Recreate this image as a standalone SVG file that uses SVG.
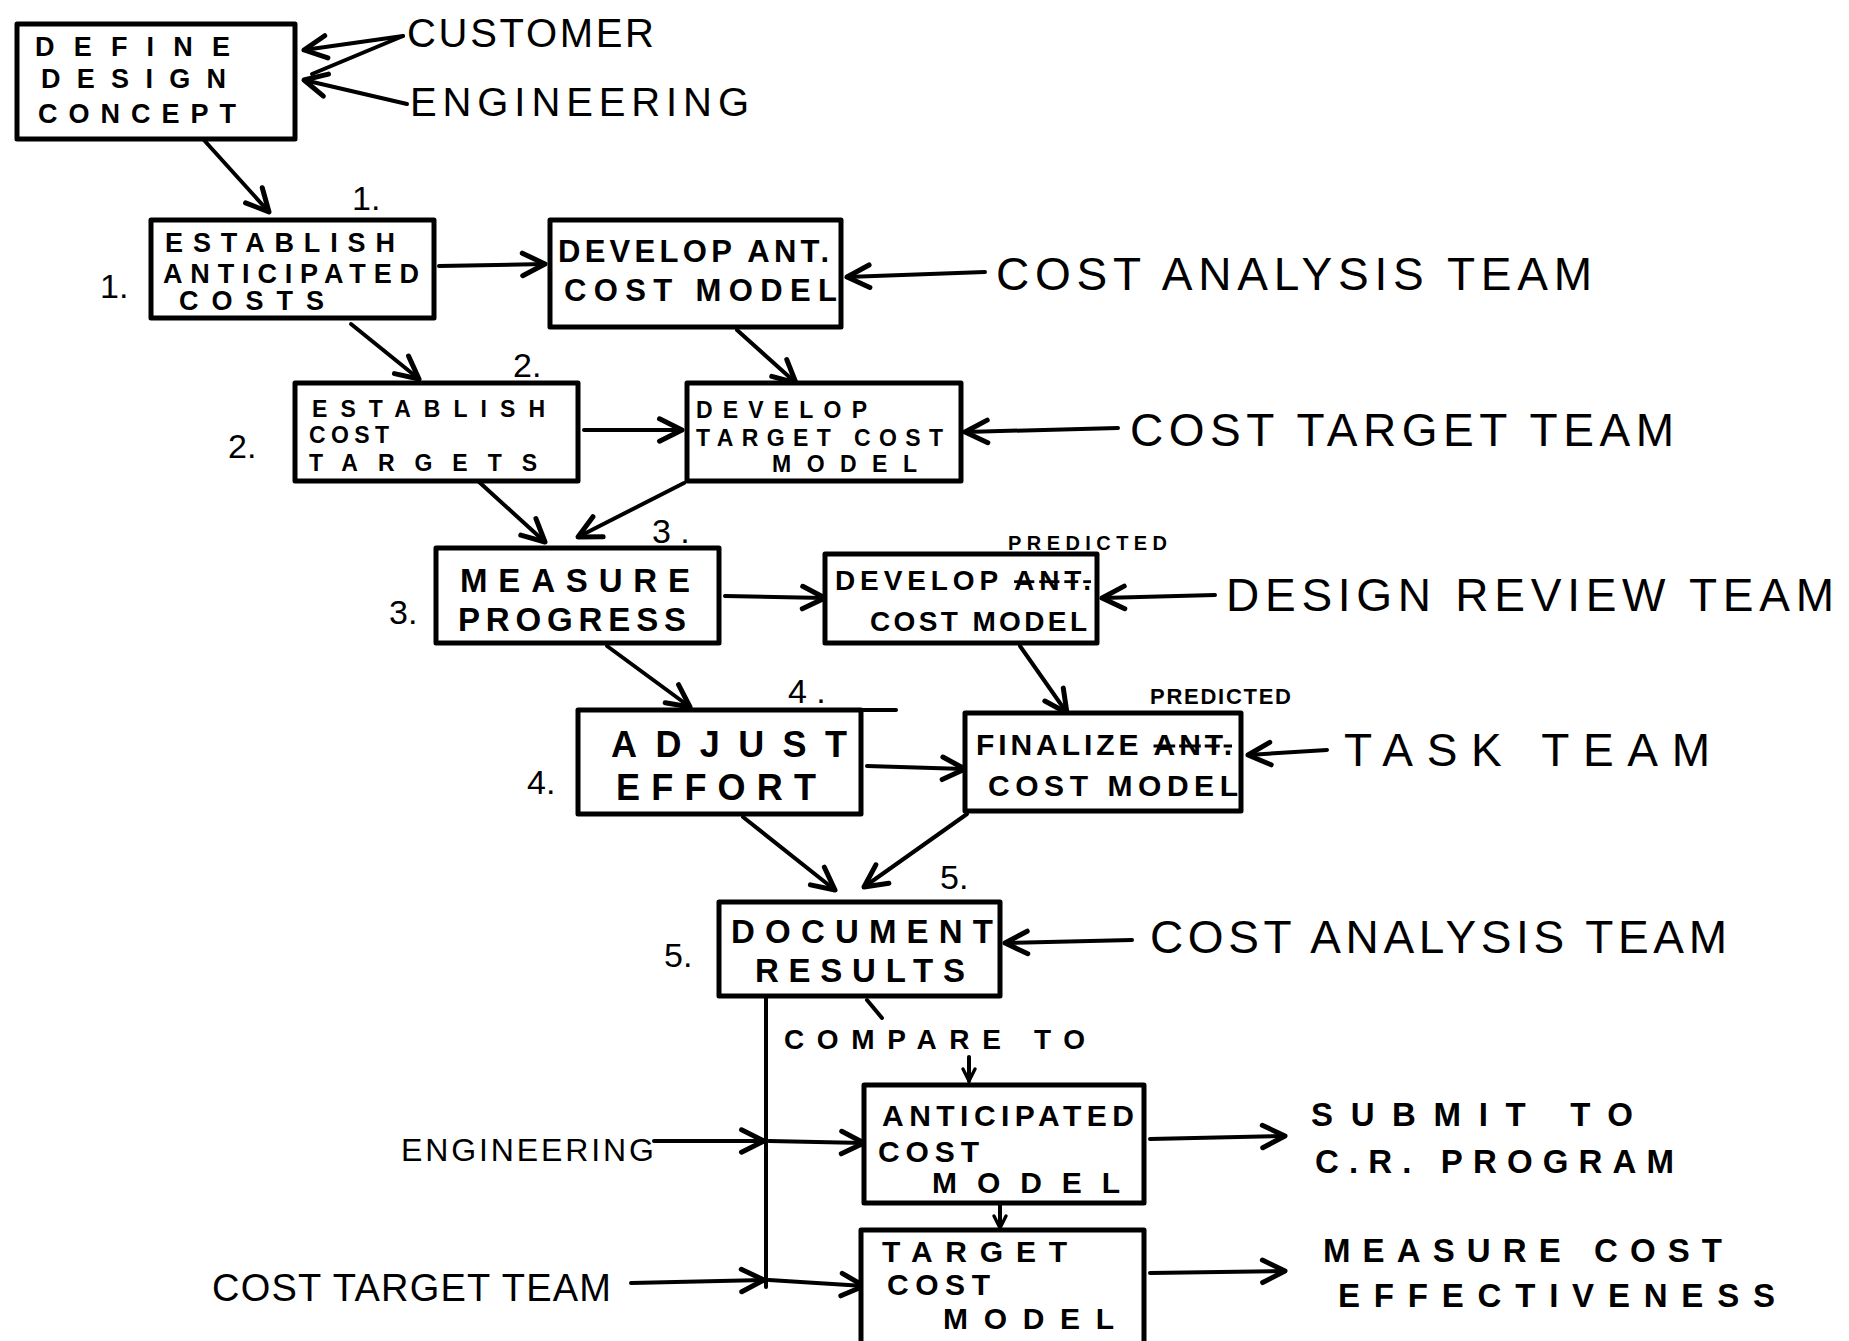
<svg xmlns="http://www.w3.org/2000/svg" width="1849" height="1341" viewBox="0 0 1849 1341">
<defs>
<marker id="ah" markerUnits="userSpaceOnUse" markerWidth="30" markerHeight="30" viewBox="0 0 24 24" refX="21" refY="12" orient="auto">
<path d="M3,3 L21,12 L3,21" fill="none" stroke="#000" stroke-width="4" stroke-linecap="round" stroke-linejoin="round"/>
</marker>
<marker id="ahs" markerUnits="userSpaceOnUse" markerWidth="16" markerHeight="16" viewBox="0 0 24 24" refX="21" refY="12" orient="auto">
<path d="M3,3 L21,12 L3,21" fill="none" stroke="#000" stroke-width="5" stroke-linecap="round"/>
</marker>
</defs>
<style>
.box{fill:#fff;stroke:#000;stroke-width:5;stroke-linejoin:round}
.c{fill:none;stroke:#000;stroke-width:4;stroke-linecap:round}
.bt{font-family:"Liberation Sans",Arial,sans-serif;font-weight:bold;fill:#000}
.lb{font-family:"Liberation Sans",Arial,sans-serif;fill:#000}
.num{font-family:"Liberation Sans",Arial,sans-serif;fill:#000;font-size:34px}
.st{text-decoration:line-through}
</style>
<rect width="1849" height="1341" fill="#fff"/>

<g id="connectors">
<path class="c" d="M403,36 L304,50" marker-end="url(#ah)"/>
<path class="c" d="M403,36 L312,74"/>
<path class="c" d="M407,104 L304,80" marker-end="url(#ah)"/>
<path class="c" d="M203,139 L269,212" marker-end="url(#ah)"/>
<path class="c" d="M439,266 L545,264" marker-end="url(#ah)"/>
<path class="c" d="M985,272 L847,277" marker-end="url(#ah)"/>
<path class="c" d="M351,324 L419,379" marker-end="url(#ah)"/>
<path class="c" d="M737,330 L796,383" marker-end="url(#ah)"/>
<path class="c" d="M584,430 L682,430" marker-end="url(#ah)"/>
<path class="c" d="M1118,428 L965,432" marker-end="url(#ah)"/>
<path class="c" d="M478,481 L545,542" marker-end="url(#ah)"/>
<path class="c" d="M684,483 L578,537" marker-end="url(#ah)"/>
<path class="c" d="M725,596 L825,598" marker-end="url(#ah)"/>
<path class="c" d="M1215,595 L1102,598" marker-end="url(#ah)"/>
<path class="c" d="M607,646 L690,707" marker-end="url(#ah)"/>
<path class="c" d="M1020,646 L1067,713" marker-end="url(#ah)"/>
<path class="c" d="M867,766 L965,769" marker-end="url(#ah)"/>
<path class="c" d="M1327,750 L1248,755" marker-end="url(#ah)"/>
<path class="c" d="M743,817 L835,890" marker-end="url(#ah)"/>
<path class="c" d="M967,814 L864,887" marker-end="url(#ah)"/>
<path class="c" d="M1132,940 L1005,943" marker-end="url(#ah)"/>
<path class="c" d="M766,996 L766,1287"/>
<path class="c" d="M867,1000 L882,1018"/>
<path class="c" d="M969,1057 L969,1081" marker-end="url(#ahs)"/>
<path class="c" d="M1000,1205 L1000,1228" marker-end="url(#ahs)" stroke-width="3"/>
<path class="c" d="M654,1141 L764,1141" marker-end="url(#ah)" stroke-width="2.5"/>
<path class="c" d="M769,1141 L864,1143" marker-end="url(#ah)"/>
<path class="c" d="M631,1283 L764,1280" marker-end="url(#ah)"/>
<path class="c" d="M769,1280 L864,1286" marker-end="url(#ah)"/>
<path class="c" d="M1150,1139 L1285,1136" marker-end="url(#ah)"/>
<path class="c" d="M1150,1273 L1285,1271" marker-end="url(#ah)"/>
<path class="c" d="M861,710 L896,710" stroke-width="5"/>
</g>

<g id="define">
<rect class="box" x="17" y="24" width="278" height="115"/>
<text class="bt" font-size="27" x="35" y="56" textLength="195">DEFINE</text>
<text class="bt" font-size="27" x="41" y="88" textLength="185">DESIGN</text>
<text class="bt" font-size="27" x="38" y="123" textLength="198">CONCEPT</text>
</g>
<g id="customer"><text class="lb" font-size="40" x="407" y="47" textLength="247">CUSTOMER</text></g>
<g id="engineering"><text class="lb" font-size="40" x="410" y="116" textLength="339">ENGINEERING</text></g>

<g id="establish-ant">
<text class="num" x="352" y="210">1.</text>
<text class="num" x="100" y="298">1.</text>
<rect class="box" x="151" y="220" width="283" height="98"/>
<text class="bt" font-size="27" x="165" y="252" textLength="230">ESTABLISH</text>
<text class="bt" font-size="27" x="163" y="283" textLength="256">ANTICIPATED</text>
<text class="bt" font-size="27" x="179" y="310" textLength="145">COSTS</text>
</g>
<g id="develop-ant">
<rect class="box" x="550" y="220" width="291" height="107"/>
<text class="bt" font-size="31" x="558" y="262" textLength="271">DEVELOP ANT.</text>
<text class="bt" font-size="31" x="564" y="301" textLength="273">COST MODEL</text>
</g>
<g id="cost-analysis-team-1"><text class="lb" font-size="46" x="996" y="290" textLength="596">COST ANALYSIS TEAM</text></g>

<g id="establish-targets">
<text class="num" x="513" y="377" font-size="30">2.</text>
<text class="num" x="228" y="458">2.</text>
<rect class="box" x="295" y="383" width="283" height="98"/>
<text class="bt" font-size="23" x="312" y="417" textLength="233">ESTABLISH</text>
<text class="bt" font-size="23" x="309" y="443" textLength="80">COST</text>
<text class="bt" font-size="23" x="309" y="471" textLength="228">TARGETS</text>
</g>
<g id="develop-target">
<rect class="box" x="687" y="383" width="274" height="98"/>
<text class="bt" font-size="23" x="696" y="418" textLength="171">DEVELOP</text>
<text class="bt" font-size="23" x="696" y="446" textLength="247">TARGET COST</text>
<text class="bt" font-size="23" x="772" y="472" textLength="145">MODEL</text>
</g>
<g id="cost-target-team-1"><text class="lb" font-size="46" x="1130" y="446" textLength="544">COST TARGET TEAM</text></g>

<g id="measure">
<text class="num" x="652" y="543" font-size="30">3 .</text>
<text class="num" x="389" y="624">3.</text>
<rect class="box" x="436" y="548" width="283" height="95"/>
<text class="bt" font-size="33" x="460" y="592" textLength="230">MEASURE</text>
<text class="bt" font-size="33" x="458" y="631" textLength="228">PROGRESS</text>
</g>
<g id="develop-predicted">
<text class="bt" font-size="20" x="1008" y="550" textLength="159">PREDICTED</text>
<rect class="box" x="825" y="554" width="272" height="89"/>
<text class="bt" font-size="28" x="835" y="590" textLength="256">DEVELOP <tspan class="st">ANT.</tspan></text>
<text class="bt" font-size="28" x="870" y="631" textLength="217">COST MODEL</text>
</g>
<g id="design-review-team"><text class="lb" font-size="46" x="1226" y="611" textLength="608">DESIGN REVIEW TEAM</text></g>

<g id="adjust">
<text class="num" x="788" y="703" font-size="32">4 .</text>
<text class="num" x="527" y="794">4.</text>
<rect class="box" x="578" y="710" width="283" height="104"/>
<text class="bt" font-size="36" x="611" y="757" textLength="236">ADJUST</text>
<text class="bt" font-size="36" x="616" y="800" textLength="200">EFFORT</text>
</g>
<g id="finalize">
<text class="bt" font-size="22" x="1150" y="704" textLength="141">PREDICTED</text>
<rect class="box" x="965" y="713" width="276" height="98"/>
<text class="bt" font-size="30" x="976" y="755" textLength="256">FINALIZE <tspan class="st">ANT.</tspan></text>
<text class="bt" font-size="30" x="988" y="796" textLength="250">COST MODEL</text>
</g>
<g id="task-team"><text class="lb" font-size="46" x="1344" y="766" textLength="366">TASK TEAM</text></g>

<g id="document">
<text class="num" x="940" y="889" font-size="30">5.</text>
<text class="num" x="664" y="967">5.</text>
<rect class="box" x="719" y="902" width="281" height="94"/>
<text class="bt" font-size="33" x="731" y="943" textLength="262">DOCUMENT</text>
<text class="bt" font-size="33" x="755" y="982" textLength="210">RESULTS</text>
</g>
<g id="cost-analysis-team-2"><text class="lb" font-size="46" x="1150" y="953" textLength="577">COST ANALYSIS TEAM</text></g>
<g id="compare"><text class="bt" font-size="28" x="784" y="1049" textLength="301">COMPARE TO</text></g>

<g id="anticipated-model">
<rect class="box" x="864" y="1085" width="280" height="118"/>
<text class="bt" font-size="30" x="882" y="1126" textLength="252">ANTICIPATED</text>
<text class="bt" font-size="30" x="878" y="1162" textLength="101">COST</text>
<text class="bt" font-size="30" x="932" y="1193" textLength="188">MODEL</text>
</g>
<g id="target-model">
<rect class="box" x="861" y="1230" width="283" height="115"/>
<text class="bt" font-size="30" x="882" y="1262" textLength="185">TARGET</text>
<text class="bt" font-size="30" x="887" y="1295" textLength="103">COST</text>
<text class="bt" font-size="30" x="943" y="1329" textLength="171">MODEL</text>
</g>
<g id="engineering-2"><text class="lb" font-size="32" x="401" y="1161" textLength="253">ENGINEERING</text></g>
<g id="cost-target-team-2"><text class="lb" font-size="38" x="212" y="1301" textLength="399">COST TARGET TEAM</text></g>
<g id="submit">
<text class="bt" font-size="33" x="1311" y="1126" textLength="322">SUBMIT TO</text>
<text class="bt" font-size="33" x="1315" y="1173" textLength="359">C.R. PROGRAM</text>
</g>
<g id="measure-cost">
<text class="bt" font-size="33" x="1323" y="1262" textLength="399">MEASURE COST</text>
<text class="bt" font-size="33" x="1338" y="1307" textLength="437">EFFECTIVENESS</text>
</g>
</svg>
